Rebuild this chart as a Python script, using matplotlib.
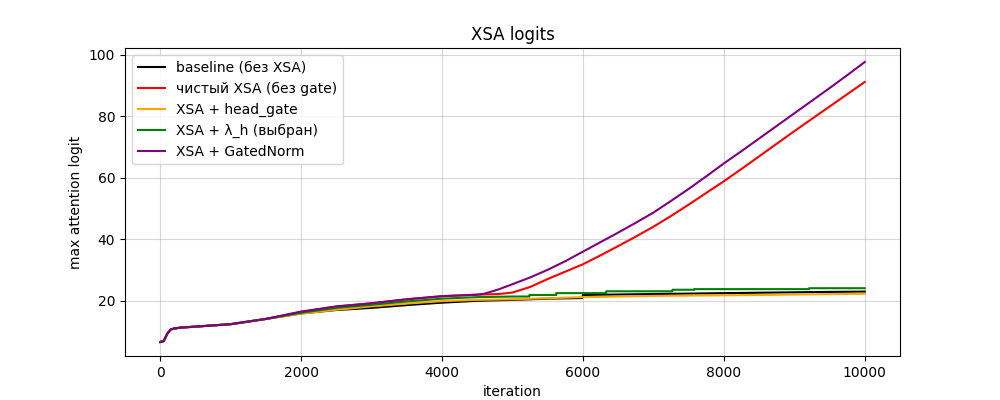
# XSA logits: max attention logit vs iteration
import matplotlib
matplotlib.use('Agg')
import matplotlib.pyplot as plt

# общий начальный участок (до 1500 итераций все кривые совпадают)
it_start = [0, 50, 100, 150, 200, 300, 500, 1000, 1500]
val_start = [6.5, 6.8, 9.2, 10.6, 10.9, 11.2, 11.5, 12.3, 14.0]

# baseline (без XSA)
it_base = [2000, 2500, 3000, 3500, 4000, 4500, 5000, 5500, 5990, 6000, 7000, 8000, 9500, 10000]
val_base = [15.8, 16.9, 17.6, 18.5, 19.3, 19.9, 20.2, 20.6, 20.8, 21.8, 22.1, 22.4, 22.8, 22.9]

# чистый XSA (без gate)
it_red = [2000, 2500, 3000, 3500, 4000, 4500, 4800, 5000, 5250, 5500, 5750, 6000,
          6250, 6500, 6750, 7000, 7250, 7500, 7750, 8000, 8250, 8500, 8750, 9000,
          9250, 9500, 9750, 10000]
val_red = [16.3, 18.0, 19.1, 20.4, 21.4, 21.9, 22.1, 22.6, 24.4, 27.0, 29.4, 31.8,
           34.7, 37.7, 40.8, 44.0, 47.5, 51.2, 55.0, 58.8, 62.8, 66.9, 71.0, 75.1,
           79.1, 83.1, 87.1, 91.1]

# XSA + head_gate
it_orange = [2000, 2500, 3000, 3500, 4000, 4500, 5000, 6000, 7000, 8500, 10000]
val_orange = [15.7, 17.0, 18.1, 19.0, 19.8, 20.2, 20.4, 21.1, 21.5, 21.8, 22.2]

# XSA + λ_h (выбран)
it_green = [2000, 2500, 3000, 3500, 4000, 4500, 5000, 5240, 5240, 5620, 5620, 6330, 6330,
            7270, 7270, 7580, 7580, 9210, 9210, 10000]
val_green = [16.0, 17.6, 18.6, 19.7, 20.6, 21.1, 21.3, 21.3, 21.8, 21.8, 22.4, 22.4, 23.0,
             23.0, 23.5, 23.5, 23.7, 23.7, 24.0, 24.0]

# XSA + GatedNorm
it_purple = [2000, 2500, 3000, 3500, 4000, 4500, 4600, 4800, 5000, 5250, 5500, 5750,
             6000, 6250, 6500, 6750, 7000, 7250, 7500, 7750, 8000, 8250, 8500, 8750,
             9000, 9250, 9500, 9750, 10000]
val_purple = [16.4, 18.1, 19.1, 20.4, 21.4, 21.9, 22.2, 23.6, 25.3, 27.5, 30.0, 32.8,
              35.9, 39.0, 42.1, 45.3, 48.6, 52.4, 56.3, 60.4, 64.6, 68.6, 72.7, 76.8,
              80.9, 85.0, 89.1, 93.3, 97.6]

series = [
    ('baseline (без XSA)', it_base, val_base, 'black'),
    ('чистый XSA (без gate)', it_red, val_red, 'red'),
    ('XSA + head_gate', it_orange, val_orange, 'orange'),
    ('XSA + λ_h (выбран)', it_green, val_green, 'green'),
    ('XSA + GatedNorm', it_purple, val_purple, 'purple'),
]

fig, ax = plt.subplots(figsize=(10, 4), dpi=100)
for label, xs, ys, color in series:
    ax.plot(it_start + xs, val_start + ys, color=color, label=label, linewidth=1.5)

ax.set_title('XSA logits')
ax.set_xlabel('iteration')
ax.set_ylabel('max attention logit')
ax.grid(True, alpha=0.5)
ax.legend(loc='upper left')

fig.savefig('out.png')
